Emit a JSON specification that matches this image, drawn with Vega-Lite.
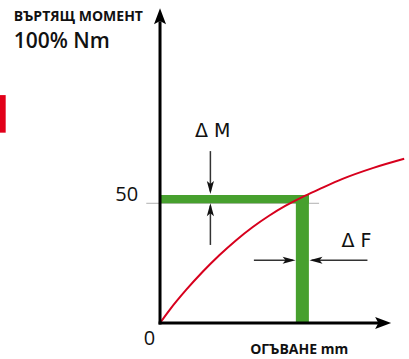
{
  "$schema": "https://vega.github.io/schema/vega-lite/v6.json",
  "width": 409,
  "height": 359,
  "autosize": {"type": "fit", "contains": "padding"},
  "padding": 0,
  "background": "white",
  "view": {"stroke": null},
  "config": {"font": "Open Sans"},
  "datasets": {
    "curve": [
      {"x": 0, "y": 0}, {"x": 4, "y": 5.4}, {"x": 11, "y": 13.8}, {"x": 18, "y": 21.4},
      {"x": 25, "y": 28.3}, {"x": 32, "y": 34.5}, {"x": 39, "y": 40}, {"x": 46, "y": 44.8},
      {"x": 53, "y": 49}, {"x": 60, "y": 52.6}, {"x": 67, "y": 55.8}, {"x": 77, "y": 60.2},
      {"x": 90, "y": 64.8}, {"x": 103, "y": 68.6}
    ],
    "rects": [
      {"x": 0, "x2": 62.8, "y": 50, "y2": 53.5, "kind": "band"},
      {"x": 57.3, "x2": 62.8, "y": 0, "y2": 53.5, "kind": "band"},
      {"x": -67.5, "x2": -65.1, "y": 79.5, "y2": 95.2, "kind": "tab"}
    ],
    "segs": [
      {"x": -5.8, "y": 50, "x2": 67.1, "y2": 50, "kind": "grid"},
      {"x": 0, "y": -0.6, "x2": 0, "y2": 126, "kind": "axis"},
      {"x": -0.6, "y": 0, "x2": 92.5, "y2": 0, "kind": "axis"},
      {"x": 21.25, "y": 71.8, "x2": 21.25, "y2": 55, "kind": "dim"},
      {"x": 21.25, "y": 49, "x2": 21.25, "y2": 32.6, "kind": "dim"},
      {"x": 39.6, "y": 26.2, "x2": 56, "y2": 26.2, "kind": "dim"},
      {"x": 64, "y": 26.2, "x2": 87.5, "y2": 26.2, "kind": "dim"}
    ],
    "heads": [
      {"x": 0, "y": 131.5, "dir": "up", "kind": "axis"},
      {"x": 97.5, "y": 0, "dir": "right", "kind": "axis"},
      {"x": 21.25, "y": 53.9, "dir": "down", "kind": "dim"},
      {"x": 21.25, "y": 50, "dir": "up", "kind": "dim"},
      {"x": 57.2, "y": 26.2, "dir": "right", "kind": "dim"},
      {"x": 63.05, "y": 26.2, "dir": "left", "kind": "dim"}
    ],
    "labels": [
      {"x": -61.7, "y": 127.8, "text": "ВЪРТЯЩ МОМЕНТ", "style": "title"},
      {"x": -61.7, "y": 117.4, "text": "100% Nm", "style": "big"},
      {"x": 22.2, "y": 80.2, "text": "Δ M", "style": "delta"},
      {"x": 82.9, "y": 34.1, "text": "Δ F", "style": "delta"},
      {"x": -9.2, "y": 53.3, "text": "50", "style": "tick"},
      {"x": -4.4, "y": -6.5, "text": "0", "style": "zero"},
      {"x": 58.7, "y": -11.1, "text": "ОГЪВАНЕ mm", "style": "xtitle"}
    ]
  },
  "encoding": {
    "x": {"field": "x", "type": "quantitative", "scale": {"domain": [-67.5, 102.92], "nice": false, "zero": false}, "axis": null},
    "y": {"field": "y", "type": "quantitative", "scale": {"domain": [-15.04, 134.92], "nice": false, "zero": false}, "axis": null}
  },
  "layer": [
    {
      "data": {"name": "segs"},
      "transform": [{"filter": "datum.kind === 'grid'"}],
      "mark": {"type": "rule", "color": "#b0b0b0", "strokeWidth": 1},
      "encoding": {"x2": {"field": "x2"}, "y2": {"field": "y2"}}
    },
    {
      "data": {"name": "rects"},
      "mark": {"type": "rect"},
      "encoding": {
        "x2": {"field": "x2"}, "y2": {"field": "y2"},
        "color": {"field": "kind", "type": "nominal", "scale": {"domain": ["band", "tab"], "range": ["#47a02e", "#e2001a"]}, "legend": null}
      }
    },
    {
      "data": {"name": "curve"},
      "mark": {"type": "line", "color": "#d7001d", "strokeWidth": 2, "interpolate": "monotone"},
      "encoding": {"order": {"field": "x", "type": "quantitative"}}
    },
    {
      "data": {"name": "segs"},
      "transform": [{"filter": "datum.kind === 'axis'"}],
      "mark": {"type": "rule", "color": "#000000", "strokeWidth": 3},
      "encoding": {"x2": {"field": "x2"}, "y2": {"field": "y2"}}
    },
    {
      "data": {"name": "segs"},
      "transform": [{"filter": "datum.kind === 'dim'"}],
      "mark": {"type": "rule", "color": "#333333", "strokeWidth": 1.5},
      "encoding": {"x2": {"field": "x2"}, "y2": {"field": "y2"}}
    },
    {
      "data": {"name": "heads"},
      "transform": [{"filter": "datum.kind === 'axis' && datum.dir === 'up'"}],
      "mark": {"type": "point", "shape": "M0,0L-0.75,-2L0,-1.6L0.75,-2Z", "size": 256, "filled": true, "color": "#000000", "opacity": 1, "strokeWidth": 0, "angle": 180}
    },
    {
      "data": {"name": "heads"},
      "transform": [{"filter": "datum.kind === 'axis' && datum.dir === 'right'"}],
      "mark": {"type": "point", "shape": "M0,0L-0.75,-2L0,-1.6L0.75,-2Z", "size": 256, "filled": true, "color": "#000000", "opacity": 1, "strokeWidth": 0, "angle": 270}
    },
    {
      "data": {"name": "heads"},
      "transform": [{"filter": "datum.kind === 'dim' && datum.dir === 'down'"}],
      "mark": {"type": "point", "shape": "M0,0L-0.55,-2L0,-1.55L0.55,-2Z", "size": 169, "filled": true, "color": "#111111", "opacity": 1, "strokeWidth": 0, "angle": 0}
    },
    {
      "data": {"name": "heads"},
      "transform": [{"filter": "datum.kind === 'dim' && datum.dir === 'up'"}],
      "mark": {"type": "point", "shape": "M0,0L-0.55,-2L0,-1.55L0.55,-2Z", "size": 169, "filled": true, "color": "#111111", "opacity": 1, "strokeWidth": 0, "angle": 180}
    },
    {
      "data": {"name": "heads"},
      "transform": [{"filter": "datum.kind === 'dim' && datum.dir === 'left'"}],
      "mark": {"type": "point", "shape": "M0,0L-0.55,-2L0,-1.55L0.55,-2Z", "size": 169, "filled": true, "color": "#111111", "opacity": 1, "strokeWidth": 0, "angle": 90}
    },
    {
      "data": {"name": "heads"},
      "transform": [{"filter": "datum.kind === 'dim' && datum.dir === 'right'"}],
      "mark": {"type": "point", "shape": "M0,0L-0.55,-2L0,-1.55L0.55,-2Z", "size": 169, "filled": true, "color": "#111111", "opacity": 1, "strokeWidth": 0, "angle": 270}
    },
    {
      "data": {"name": "labels"},
      "transform": [{"filter": "datum.style === 'title'"}],
      "mark": {"type": "text", "align": "left", "baseline": "middle", "fontSize": 14, "fontWeight": "bold", "color": "#111111"},
      "encoding": {"text": {"field": "text"}}
    },
    {
      "data": {"name": "labels"},
      "transform": [{"filter": "datum.style === 'big'"}],
      "mark": {"type": "text", "align": "left", "baseline": "middle", "fontSize": 21, "fontWeight": 600, "color": "#111111"},
      "encoding": {"text": {"field": "text"}}
    },
    {
      "data": {"name": "labels"},
      "transform": [{"filter": "datum.style === 'delta'"}],
      "mark": {"type": "text", "align": "center", "baseline": "middle", "fontSize": 19, "font": "DejaVu Sans", "color": "#111111"},
      "encoding": {"text": {"field": "text"}}
    },
    {
      "data": {"name": "labels"},
      "transform": [{"filter": "datum.style === 'tick'"}],
      "mark": {"type": "text", "align": "right", "baseline": "middle", "fontSize": 20, "color": "#111111"},
      "encoding": {"text": {"field": "text"}}
    },
    {
      "data": {"name": "labels"},
      "transform": [{"filter": "datum.style === 'zero'"}],
      "mark": {"type": "text", "align": "center", "baseline": "middle", "fontSize": 20, "color": "#111111"},
      "encoding": {"text": {"field": "text"}}
    },
    {
      "data": {"name": "labels"},
      "transform": [{"filter": "datum.style === 'xtitle'"}],
      "mark": {"type": "text", "align": "center", "baseline": "middle", "fontSize": 14, "fontWeight": "bold", "color": "#111111"},
      "encoding": {"text": {"field": "text"}}
    }
  ]
}
